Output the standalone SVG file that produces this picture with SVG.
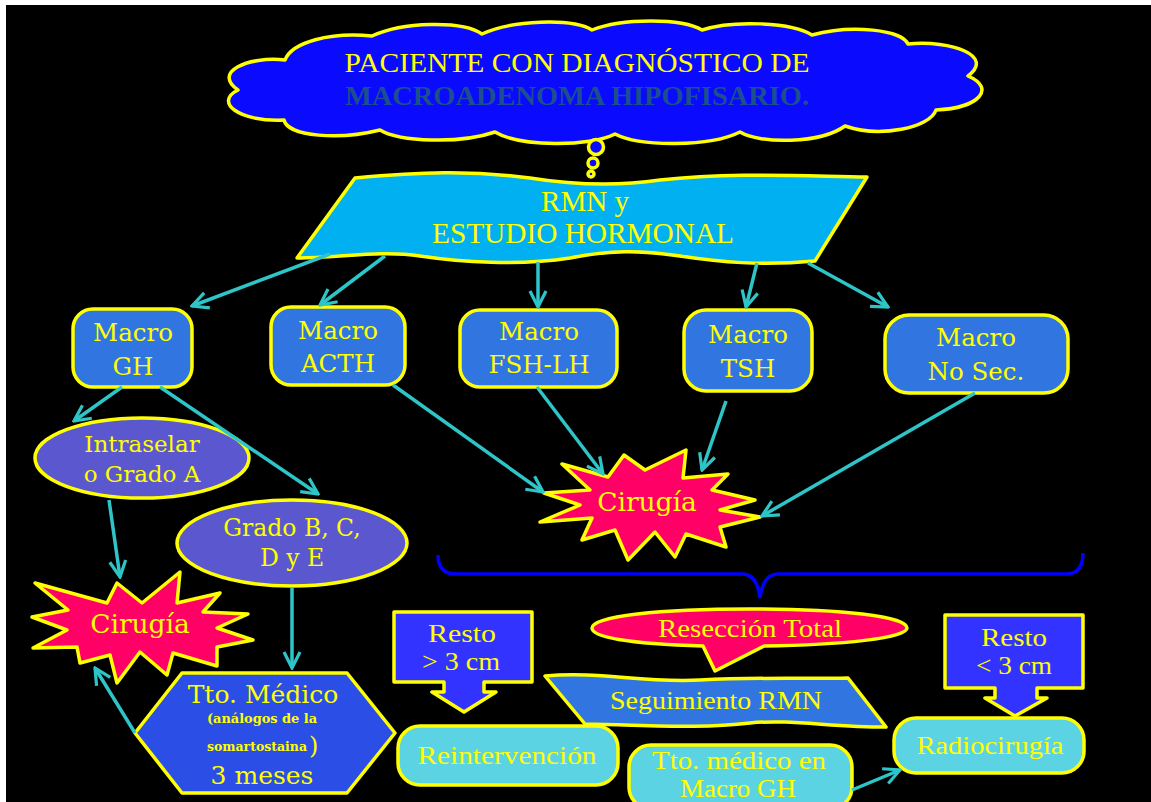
<svg xmlns="http://www.w3.org/2000/svg" width="1151" height="802" viewBox="0 0 1151 802">
<style>
.ys{stroke:#ffff00;stroke-width:3.5;stroke-linejoin:round}
.box{fill:#3075e0}
.ell{fill:#5b57cf}
.star{fill:#ff0066}
.cyan{fill:#5cd3e2}
.res{fill:#3333ff}
.t{font-family:"Liberation Serif",serif;fill:#ffff00;text-anchor:middle}
.d{font-family:"DejaVu Serif",serif;fill:#ffff00;text-anchor:middle}
.con{stroke:#2ec5c9;stroke-width:3.5;fill:none;marker-end:url(#ah)}
</style>
<defs>
<marker id="ah" viewBox="0 0 12 12" refX="11" refY="6" markerWidth="5.5" markerHeight="5.5" orient="auto" markerUnits="strokeWidth">
<path d="M1,1 L11,6 L1,11" fill="none" stroke="#2ec5c9" stroke-width="2"/>
</marker>
</defs>
<rect x="0" y="0" width="1151" height="802" fill="#ffffff"/>
<rect x="6" y="5" width="1145" height="797" fill="#000000"/>

<g id="cloud">
<path class="ys" fill="#0a0aff" d="M238,90 C212,72 248,56 285,60 C292,42 330,32 372,36 C402,22 462,20 482,34 C512,20 572,18 592,30 C622,18 682,18 702,30 C732,20 792,22 812,35 C852,24 902,30 908,44 C952,40 995,56 968,76 C996,88 980,108 936,110 C930,128 880,138 845,126 C820,144 760,144 740,132 C710,147 640,147 615,134 C590,147 520,147 495,132 C460,144 400,142 380,130 C340,140 288,137 284,120 C238,122 214,102 238,90 Z"/>
<text class="t" x="577" y="72" font-size="28" textLength="465" lengthAdjust="spacingAndGlyphs">PACIENTE  CON DIAGNÓSTICO DE</text>
<text class="t" x="577" y="105" font-size="27" font-weight="bold" style="fill:#1b4f8d" textLength="464" lengthAdjust="spacingAndGlyphs">MACROADENOMA  HIPOFISARIO.</text>
<circle class="ys" cx="596" cy="147" r="7.5" fill="#0a0aff"/>
<circle class="ys" cx="593" cy="163" r="5" fill="#0a0aff"/>
<circle class="ys" cx="591" cy="174" r="3" fill="#0a0aff"/>
</g>

<g id="rmn">
<path class="ys" fill="#00b0f0" d="M355,178 C420,172 470,170 530,178 C580,186 620,186 660,180 C730,172 800,176 867,177 L815,261 C760,266 720,262 680,256 C640,250 610,250 570,258 C520,266 460,262 420,256 C380,250 340,258 297,258 Z"/>
<text class="t" x="585" y="211" font-size="29" textLength="88" lengthAdjust="spacingAndGlyphs">RMN y</text>
<text class="t" x="583" y="243" font-size="29" textLength="302" lengthAdjust="spacingAndGlyphs">ESTUDIO HORMONAL</text>
</g>

<g id="macro-gh">
<rect class="ys box" x="73" y="309" width="119" height="78" rx="20"/>
<text class="d" x="133" y="341" font-size="24.5">Macro</text>
<text class="d" x="133" y="375" font-size="24.5">GH</text>
</g>
<g id="macro-acth">
<rect class="ys box" x="271" y="307" width="134" height="78" rx="20"/>
<text class="d" x="338" y="339" font-size="24.5">Macro</text>
<text class="d" x="338" y="372" font-size="24.5">ACTH</text>
</g>
<g id="macro-fsh">
<rect class="ys box" x="460" y="310" width="157" height="77" rx="20"/>
<text class="d" x="539" y="340" font-size="24.5">Macro</text>
<text class="d" x="539" y="373" font-size="24.5">FSH-LH</text>
</g>
<g id="macro-tsh">
<rect class="ys box" x="684" y="310" width="128" height="81" rx="22"/>
<text class="d" x="748" y="343" font-size="24.5">Macro</text>
<text class="d" x="748" y="377" font-size="24.5">TSH</text>
</g>
<g id="macro-nosec">
<rect class="ys box" x="885" y="315" width="183" height="78" rx="24"/>
<text class="d" x="976" y="346" font-size="24.5">Macro</text>
<text class="d" x="976" y="380" font-size="24.5">No Sec.</text>
</g>

<g id="intraselar">
<ellipse class="ys ell" cx="142" cy="458" rx="107" ry="40"/>
<text class="d" x="142" y="452" font-size="23">Intraselar</text>
<text class="d" x="142" y="482" font-size="23">o Grado A</text>
</g>
<g id="gradob">
<ellipse class="ys ell" cx="292" cy="543" rx="115" ry="43"/>
<text class="d" x="292" y="536" font-size="23.5">Grado B, C,</text>
<text class="d" x="292" y="566" font-size="23.5">D y E</text>
</g>

<g id="cirugia-center">
<polygon class="ys star" points="544,493 590,490 562,464 608,477 624,455 645,470 686,450 683,478 728,474 712,490 755,500 720,510 760,517 720,527 726,547 686,534 675,557 655,532 628,560 615,530 582,540 592,518 540,522 580,505"/>
<text class="d" x="647" y="511" font-size="26.5">Cirugía</text>
</g>

<g id="cirugia-left">
<polygon class="ys star" points="35,583 107,603 117,583 142,603 180,572 177,603 220,593 203,612 248,614 217,628 253,640 217,647 217,666 173,653 167,675 140,652 117,683 110,655 80,663 77,647 33,648 67,630 32,617 68,610"/>
<text class="d" x="140" y="633" font-size="26.5">Cirugía</text>
</g>

<g id="tto-medico">
<polygon class="ys" fill="#2a4ee6" points="135,733 182,673 347,673 395,733 347,793 182,793"/>
<text class="d" x="263" y="703" font-size="25">Tto. Médico</text>
<text class="d" x="262" y="723" font-size="13" font-weight="bold" textLength="110" lengthAdjust="spacingAndGlyphs">(análogos de la</text>
<text class="d" x="207" y="751" font-size="13" font-weight="bold" text-anchor="start" style="text-anchor:start" textLength="100" lengthAdjust="spacingAndGlyphs">somartostaina</text>
<text class="d" x="309" y="754" font-size="24" style="text-anchor:start">)</text>
<text class="d" x="262" y="784" font-size="25">3 meses</text>
</g>

<g id="brace">
<path d="M438,555 C438,568 444,574 456,574 L742,574 C752,574 758,582 760,598 C762,582 768,574 778,574 L1066,574 C1078,574 1083,566 1083,553" fill="none" stroke="#0000ff" stroke-width="3.5"/>
</g>

<g id="resto-mayor">
<path class="ys res" d="M394,612 L532,612 L532,682 L484,682 L484,692 L496,692 L464,712 L432,692 L444,692 L444,682 L394,682 Z"/>
<text class="t" x="462" y="642" font-size="26" textLength="68" lengthAdjust="spacingAndGlyphs">Resto</text>
<text class="t" x="461" y="670" font-size="26" textLength="78" lengthAdjust="spacingAndGlyphs">&gt; 3 cm</text>
</g>

<g id="resto-menor">
<path class="ys res" d="M945,615 L1083,615 L1083,688 L1037,688 L1037,698 L1047,698 L1015,716 L985,698 L995,698 L995,688 L945,688 Z"/>
<text class="t" x="1014" y="646" font-size="26" textLength="66" lengthAdjust="spacingAndGlyphs">Resto</text>
<text class="t" x="1014" y="674" font-size="26" textLength="76" lengthAdjust="spacingAndGlyphs">&lt; 3 cm</text>
</g>

<g id="reseccion">
<path class="ys star" d="M703,646 C635,644 592,638 592,628 C592,616 660,609 750,609 C840,609 907,616 907,628 C907,638 842,645 764,646 L715,671 Z"/>
<text class="t" x="750" y="637" font-size="25" textLength="184" lengthAdjust="spacingAndGlyphs">Resección Total</text>
</g>

<g id="seguimiento">
<path class="ys box" d="M545,676 C600,671 640,683 700,680 C760,677 800,679 848,678 L886,727 C830,727 790,719 750,723 C700,729 650,725 585,724 Z"/>
<text class="t" x="716" y="709" font-size="25" textLength="212" lengthAdjust="spacingAndGlyphs">Seguimiento RMN</text>
</g>

<g id="reintervencion">
<rect class="ys cyan" x="398" y="726" width="220" height="59" rx="22"/>
<text class="t" x="507" y="764" font-size="26" textLength="179" lengthAdjust="spacingAndGlyphs">Reintervención</text>
</g>

<g id="tto-gh">
<rect class="ys cyan" x="629" y="745" width="223" height="64" rx="22"/>
<text class="t" x="739" y="769" font-size="26" textLength="174" lengthAdjust="spacingAndGlyphs">Tto. médico en</text>
<text class="t" x="738" y="797" font-size="26" textLength="116" lengthAdjust="spacingAndGlyphs">Macro GH</text>
</g>

<g id="radiocirugia">
<rect class="ys cyan" x="894" y="718" width="190" height="55" rx="22"/>
<text class="t" x="990" y="754" font-size="26" textLength="147" lengthAdjust="spacingAndGlyphs">Radiocirugía</text>
</g>

<g id="connectors">
<line class="con" x1="330" y1="254" x2="192" y2="306"/>
<line class="con" x1="385" y1="256" x2="320" y2="305"/>
<line class="con" x1="538" y1="262" x2="538" y2="307"/>
<line class="con" x1="757" y1="263" x2="746" y2="307"/>
<line class="con" x1="808" y1="263" x2="888" y2="307"/>
<line class="con" x1="122" y1="387" x2="74" y2="421"/>
<line class="con" x1="160" y1="387" x2="318" y2="494"/>
<line class="con" x1="109" y1="500" x2="120" y2="577"/>
<line class="con" x1="292" y1="587" x2="292" y2="668"/>
<line class="con" x1="135" y1="733" x2="95" y2="668"/>
<line class="con" x1="393" y1="385" x2="543" y2="492"/>
<line class="con" x1="537" y1="387" x2="603" y2="474"/>
<line class="con" x1="726" y1="401" x2="702" y2="470"/>
<line class="con" x1="975" y1="393" x2="762" y2="516"/>
<line class="con" x1="852" y1="790" x2="900" y2="770"/>
</g>
</svg>
